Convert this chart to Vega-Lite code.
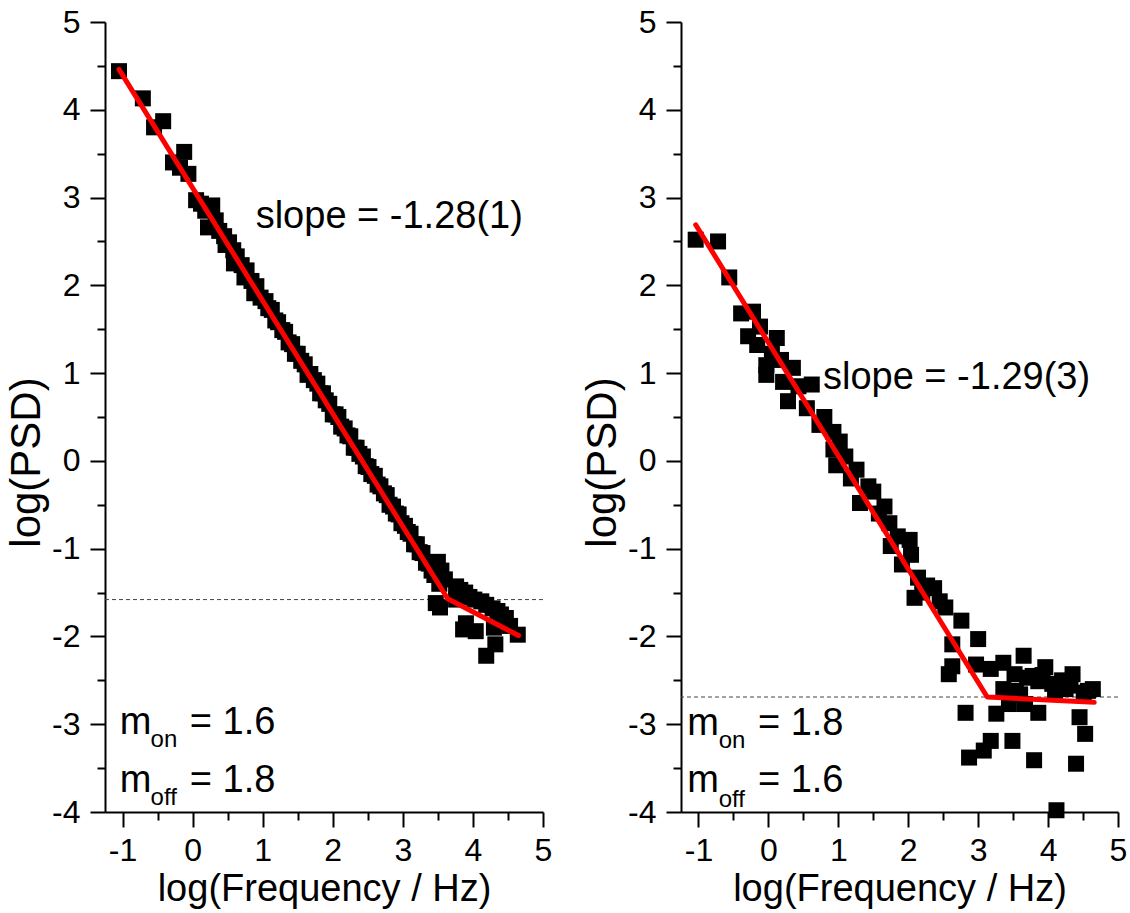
{
  "$schema": "https://vega.github.io/schema/vega-lite/v6.json",
  "background": "white",
  "padding": {"left": 5, "top": 6, "right": 5, "bottom": 3},
  "spacing": 29,
  "config": {
    "font": "Liberation Sans",
    "view": {"stroke": null},
    "axis": {
      "grid": false,
      "domainColor": "black",
      "domainWidth": 2,
      "tickColor": "black",
      "tickWidth": 2,
      "tickSize": 15,
      "labelFontSize": 32,
      "labelColor": "black",
      "labelFlush": false,
      "labelOverlap": false,
      "labelBound": false,
      "titleFontSize": 39,
      "titleFontWeight": "normal",
      "titleColor": "black"
    }
  },
  "datasets": {
    "lp": [
      {"x": -1.05, "y": 4.44}, {"x": -0.71, "y": 4.13}, {"x": -0.42, "y": 3.87}, {"x": -0.55, "y": 3.80}, {"x": -0.12, "y": 3.52}, {"x": -0.28, "y": 3.40}, {"x": -0.18, "y": 3.34}, {"x": -0.06, "y": 3.27},
      {"x": 0.05, "y": 2.97}, {"x": 0.12, "y": 2.93}, {"x": 0.28, "y": 2.91}, {"x": 0.18, "y": 2.85}, {"x": 0.33, "y": 2.74}, {"x": 0.22, "y": 2.66}, {"x": 0.38, "y": 2.62}, {"x": 0.45, "y": 2.56}, {"x": 0.52, "y": 2.49}, {"x": 0.47, "y": 2.46}, {"x": 0.58, "y": 2.40}, {"x": 0.63, "y": 2.33}, {"x": 0.59, "y": 2.25}, {"x": 0.70, "y": 2.23}, {"x": 0.77, "y": 2.17}, {"x": 0.74, "y": 2.09}, {"x": 0.84, "y": 2.05}, {"x": 0.91, "y": 1.99}, {"x": 0.88, "y": 1.91}, {"x": 0.97, "y": 1.86},
      {"x": 1.04, "y": 1.82}, {"x": 1.08, "y": 1.74}, {"x": 1.13, "y": 1.72}, {"x": 1.18, "y": 1.60}, {"x": 1.22, "y": 1.58}, {"x": 1.28, "y": 1.49}, {"x": 1.32, "y": 1.47}, {"x": 1.37, "y": 1.35}, {"x": 1.42, "y": 1.33}, {"x": 1.46, "y": 1.22}, {"x": 1.50, "y": 1.22}, {"x": 1.55, "y": 1.14}, {"x": 1.60, "y": 1.10}, {"x": 1.64, "y": 0.98}, {"x": 1.68, "y": 0.99}, {"x": 1.73, "y": 0.92}, {"x": 1.78, "y": 0.88}, {"x": 1.82, "y": 0.77}, {"x": 1.86, "y": 0.77}, {"x": 1.90, "y": 0.69}, {"x": 1.95, "y": 0.65}, {"x": 2.00, "y": 0.53},
      {"x": 2.04, "y": 0.53}, {"x": 2.08, "y": 0.50}, {"x": 2.12, "y": 0.39}, {"x": 2.17, "y": 0.37}, {"x": 2.21, "y": 0.29}, {"x": 2.25, "y": 0.28}, {"x": 2.30, "y": 0.15}, {"x": 2.34, "y": 0.15}, {"x": 2.38, "y": 0.08}, {"x": 2.43, "y": 0.05}, {"x": 2.47, "y": -0.06}, {"x": 2.51, "y": -0.07}, {"x": 2.55, "y": -0.15}, {"x": 2.60, "y": -0.17}, {"x": 2.64, "y": -0.27}, {"x": 2.68, "y": -0.29}, {"x": 2.73, "y": -0.37}, {"x": 2.77, "y": -0.39}, {"x": 2.81, "y": -0.50}, {"x": 2.86, "y": -0.52}, {"x": 2.90, "y": -0.60}, {"x": 2.94, "y": -0.61}, {"x": 2.98, "y": -0.71},
      {"x": 3.03, "y": -0.74}, {"x": 3.07, "y": -0.81}, {"x": 3.11, "y": -0.83}, {"x": 3.16, "y": -0.95}, {"x": 3.20, "y": -0.95}, {"x": 3.24, "y": -1.04}, {"x": 3.28, "y": -1.05}, {"x": 3.33, "y": -1.16}, {"x": 3.37, "y": -1.17}, {"x": 3.41, "y": -1.25}, {"x": 3.45, "y": -1.30}, {"x": 3.50, "y": -1.15}, {"x": 3.55, "y": -1.25}, {"x": 3.60, "y": -1.35}, {"x": 3.52, "y": -1.40}, {"x": 3.47, "y": -1.62}, {"x": 3.53, "y": -1.67},
      {"x": 3.76, "y": -1.43}, {"x": 3.82, "y": -1.47}, {"x": 3.89, "y": -1.50}, {"x": 3.95, "y": -1.55}, {"x": 4.02, "y": -1.58}, {"x": 3.76, "y": -1.58}, {"x": 3.86, "y": -1.92}, {"x": 3.90, "y": -1.85}, {"x": 4.04, "y": -1.94}, {"x": 4.19, "y": -2.22}, {"x": 4.32, "y": -2.09}, {"x": 4.30, "y": -1.90}, {"x": 4.12, "y": -1.60}, {"x": 4.19, "y": -1.64}, {"x": 4.28, "y": -1.68}, {"x": 4.35, "y": -1.71}, {"x": 4.40, "y": -1.75}, {"x": 4.47, "y": -1.79}, {"x": 4.53, "y": -1.88}, {"x": 4.64, "y": -1.98}
    ],
    "rp": [
      {"x": -1.04, "y": 2.52}, {"x": -0.72, "y": 2.50}, {"x": -0.56, "y": 2.09}, {"x": -0.39, "y": 1.68}, {"x": -0.22, "y": 1.70}, {"x": -0.29, "y": 1.42}, {"x": -0.12, "y": 1.53}, {"x": -0.16, "y": 1.32}, {"x": 0.12, "y": 1.40}, {"x": 0.05, "y": 1.22}, {"x": 0.18, "y": 1.15}, {"x": -0.03, "y": 1.09}, {"x": -0.03, "y": 0.98}, {"x": 0.35, "y": 1.06}, {"x": 0.21, "y": 0.90}, {"x": 0.43, "y": 0.85}, {"x": 0.62, "y": 0.87}, {"x": 0.28, "y": 0.68}, {"x": 0.55, "y": 0.60}, {"x": 0.73, "y": 0.41}, {"x": 0.80, "y": 0.50}, {"x": 0.93, "y": 0.33}, {"x": 1.02, "y": 0.22}, {"x": 0.93, "y": 0.13}, {"x": 1.10, "y": 0.05}, {"x": 0.97, "y": -0.05}, {"x": 1.26, "y": -0.10}, {"x": 1.18, "y": -0.20}, {"x": 1.43, "y": -0.29}, {"x": 1.50, "y": -0.35}, {"x": 1.31, "y": -0.48}, {"x": 1.58, "y": -0.60}, {"x": 1.66, "y": -0.52}, {"x": 1.73, "y": -0.71}, {"x": 1.85, "y": -0.86}, {"x": 1.75, "y": -0.97}, {"x": 2.02, "y": -0.90}, {"x": 2.04, "y": -1.07}, {"x": 1.91, "y": -1.18}, {"x": 2.14, "y": -1.33}, {"x": 2.27, "y": -1.42}, {"x": 2.20, "y": -1.50}, {"x": 2.37, "y": -1.45}, {"x": 2.09, "y": -1.56}, {"x": 2.45, "y": -1.60}, {"x": 2.53, "y": -1.67}, {"x": 2.76, "y": -1.82}, {"x": 2.63, "y": -2.09}, {"x": 3.00, "y": -2.03}, {"x": 2.63, "y": -2.34}, {"x": 2.58, "y": -2.43}, {"x": 2.97, "y": -2.32}, {"x": 3.18, "y": -2.37}, {"x": 3.36, "y": -2.30}, {"x": 3.65, "y": -2.22}, {"x": 3.52, "y": -2.43}, {"x": 3.70, "y": -2.47}, {"x": 3.78, "y": -2.45}, {"x": 3.92, "y": -2.44}, {"x": 3.96, "y": -2.35}, {"x": 3.86, "y": -2.51}, {"x": 4.06, "y": -2.54}, {"x": 4.20, "y": -2.50}, {"x": 4.25, "y": -2.60}, {"x": 4.10, "y": -2.62}, {"x": 4.35, "y": -2.43}, {"x": 4.32, "y": -2.56}, {"x": 4.57, "y": -2.62}, {"x": 4.64, "y": -2.60}, {"x": 4.51, "y": -2.64}, {"x": 3.60, "y": -2.66}, {"x": 3.36, "y": -2.60}, {"x": 3.54, "y": -2.62}, {"x": 3.44, "y": -2.77}, {"x": 3.67, "y": -2.77}, {"x": 3.86, "y": -2.87}, {"x": 3.26, "y": -2.88}, {"x": 2.82, "y": -2.87}, {"x": 4.45, "y": -2.92}, {"x": 4.53, "y": -3.11}, {"x": 3.49, "y": -3.19}, {"x": 3.18, "y": -3.19}, {"x": 3.08, "y": -3.30}, {"x": 2.87, "y": -3.38}, {"x": 3.80, "y": -3.41}, {"x": 4.40, "y": -3.45}, {"x": 4.12, "y": -3.98}
    ],
    "lfit": [{"x": -1.05, "y": 4.46}, {"x": 3.64, "y": -1.57}, {"x": 4.65, "y": -1.99}],
    "rfit": [{"x": -1.04, "y": 2.69}, {"x": 3.13, "y": -2.69}, {"x": 4.66, "y": -2.75}],
    "lref": [{"y": -1.58}],
    "rref": [{"y": -2.69}],
    "ltxt": [
      {"x": 0.90, "y": 2.65, "t": "slope = -1.28(1)"},
      {"x": -1.04, "y": -3.11, "t": "m"}, {"x": -0.04, "y": -3.11, "t": "= 1.6"},
      {"x": -1.04, "y": -3.77, "t": "m"}, {"x": -0.04, "y": -3.77, "t": "= 1.8"}
    ],
    "lsub": [{"x": -0.60, "y": -3.26, "t": "on"}, {"x": -0.60, "y": -3.92, "t": "off"}],
    "rtxt": [
      {"x": 0.78, "y": 0.82, "t": "slope = -1.29(3)"},
      {"x": -1.16, "y": -3.12, "t": "m"}, {"x": -0.15, "y": -3.12, "t": "= 1.8"},
      {"x": -1.16, "y": -3.77, "t": "m"}, {"x": -0.15, "y": -3.77, "t": "= 1.6"}
    ],
    "rsub": [{"x": -0.71, "y": -3.27, "t": "on"}, {"x": -0.71, "y": -3.94, "t": "off"}]
  },
  "hconcat": [
    {
      "width": 438,
      "height": 790,
      "resolve": {"axis": {"x": "independent", "y": "independent"}},
      "layer": [
        {
          "data": {"name": "lref"},
          "mark": {"type": "rule", "color": "#444444", "strokeWidth": 1, "strokeDash": [4, 3]},
          "encoding": {"y": {"field": "y", "type": "quantitative", "scale": {"domain": [-4, 5], "nice": false, "zero": false}, "axis": null}}
        },
        {
          "data": {"name": "lp"},
          "mark": {"type": "point", "shape": "square", "filled": true, "color": "black", "size": 256, "opacity": 1, "strokeWidth": 0},
          "encoding": {
            "x": {"field": "x", "type": "quantitative", "scale": {"domain": [-1.25, 5], "nice": false, "zero": false},
              "axis": {"orient": "bottom", "values": [-1, 0, 1, 2, 3, 4, 5], "labelExpr": "'' + datum.value", "labelPadding": 8, "title": "log(Frequency / Hz)", "titleFontSize": 38, "titlePadding": 4}},
            "y": {"field": "y", "type": "quantitative", "scale": {"domain": [-4, 5], "nice": false, "zero": false},
              "axis": {"orient": "left", "values": [-4, -3, -2, -1, 0, 1, 2, 3, 4, 5], "labelExpr": "'' + datum.value", "labelPadding": 10, "title": "log(PSD)", "titleFontSize": 42, "titlePadding": 3, "titleY": 440}}
          }
        },
        {
          "data": {"name": "lfit"},
          "mark": {"type": "line", "color": "#ff0000", "strokeWidth": 5, "strokeCap": "round", "strokeJoin": "round"},
          "encoding": {
            "x": {"field": "x", "type": "quantitative", "axis": {"orient": "bottom", "values": [-0.5, 0.5, 1.5, 2.5, 3.5, 4.5], "tickSize": 8, "labels": false, "domain": false, "title": null}},
            "y": {"field": "y", "type": "quantitative", "axis": {"orient": "left", "values": [-3.5, -2.5, -1.5, -0.5, 0.5, 1.5, 2.5, 3.5, 4.5], "tickSize": 8, "labels": false, "domain": false, "title": null}}
          }
        },
        {
          "data": {"name": "ltxt"},
          "mark": {"type": "text", "align": "left", "baseline": "alphabetic", "fontSize": 38, "color": "black"},
          "encoding": {
            "x": {"field": "x", "type": "quantitative", "axis": null},
            "y": {"field": "y", "type": "quantitative", "axis": null},
            "text": {"field": "t"}
          }
        },
        {
          "data": {"name": "lsub"},
          "mark": {"type": "text", "align": "left", "baseline": "alphabetic", "fontSize": 24, "color": "black"},
          "encoding": {
            "x": {"field": "x", "type": "quantitative", "axis": null},
            "y": {"field": "y", "type": "quantitative", "axis": null},
            "text": {"field": "t"}
          }
        }
      ]
    },
    {
      "width": 437,
      "height": 790,
      "resolve": {"axis": {"x": "independent", "y": "independent"}},
      "layer": [
        {
          "data": {"name": "rref"},
          "mark": {"type": "rule", "color": "#444444", "strokeWidth": 1, "strokeDash": [4, 3]},
          "encoding": {"y": {"field": "y", "type": "quantitative", "scale": {"domain": [-4, 5], "nice": false, "zero": false}, "axis": null}}
        },
        {
          "data": {"name": "rp"},
          "mark": {"type": "point", "shape": "square", "filled": true, "color": "black", "size": 256, "opacity": 1, "strokeWidth": 0},
          "encoding": {
            "x": {"field": "x", "type": "quantitative", "scale": {"domain": [-1.25, 5], "nice": false, "zero": false},
              "axis": {"orient": "bottom", "values": [-1, 0, 1, 2, 3, 4, 5], "labelExpr": "'' + datum.value", "labelPadding": 8, "title": "log(Frequency / Hz)", "titleFontSize": 38, "titlePadding": 4}},
            "y": {"field": "y", "type": "quantitative", "scale": {"domain": [-4, 5], "nice": false, "zero": false},
              "axis": {"orient": "left", "values": [-4, -3, -2, -1, 0, 1, 2, 3, 4, 5], "labelExpr": "'' + datum.value", "labelPadding": 10, "title": "log(PSD)", "titleFontSize": 42, "titlePadding": 3, "titleY": 440}}
          }
        },
        {
          "data": {"name": "rfit"},
          "mark": {"type": "line", "color": "#ff0000", "strokeWidth": 5, "strokeCap": "round", "strokeJoin": "round"},
          "encoding": {
            "x": {"field": "x", "type": "quantitative", "axis": {"orient": "bottom", "values": [-0.5, 0.5, 1.5, 2.5, 3.5, 4.5], "tickSize": 8, "labels": false, "domain": false, "title": null}},
            "y": {"field": "y", "type": "quantitative", "axis": {"orient": "left", "values": [-3.5, -2.5, -1.5, -0.5, 0.5, 1.5, 2.5, 3.5, 4.5], "tickSize": 8, "labels": false, "domain": false, "title": null}}
          }
        },
        {
          "data": {"name": "rtxt"},
          "mark": {"type": "text", "align": "left", "baseline": "alphabetic", "fontSize": 38, "color": "black"},
          "encoding": {
            "x": {"field": "x", "type": "quantitative", "axis": null},
            "y": {"field": "y", "type": "quantitative", "axis": null},
            "text": {"field": "t"}
          }
        },
        {
          "data": {"name": "rsub"},
          "mark": {"type": "text", "align": "left", "baseline": "alphabetic", "fontSize": 24, "color": "black"},
          "encoding": {
            "x": {"field": "x", "type": "quantitative", "axis": null},
            "y": {"field": "y", "type": "quantitative", "axis": null},
            "text": {"field": "t"}
          }
        }
      ]
    }
  ]
}
